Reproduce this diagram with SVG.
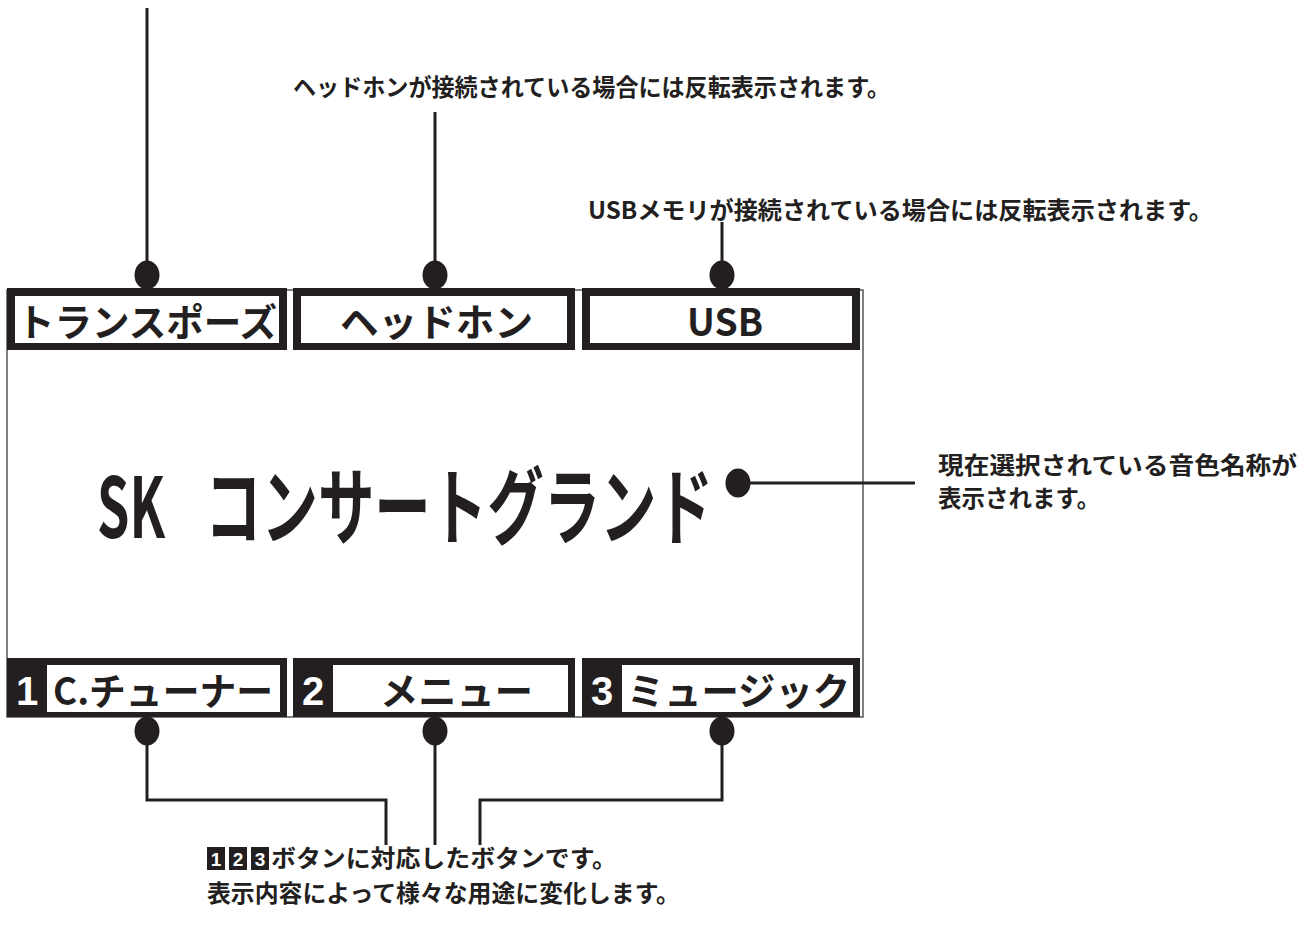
<svg xmlns="http://www.w3.org/2000/svg" width="1313" height="934" viewBox="0 0 1313 934">
<style>
.lbl{font-family:"Noto Sans CJK JP","Noto Sans",sans-serif;font-weight:700;font-size:23.5px;fill:#231f20}
.lcd{font-family:"Noto Sans CJK JP","DejaVu Sans Mono",monospace;font-weight:700;fill:#231f20}
.inv{font-family:"Liberation Sans","Noto Sans CJK JP",sans-serif;font-weight:700;fill:#fff}
.ln{fill:none;stroke:#231f20;stroke-width:3}
.dot{fill:#231f20}
.blk{fill:#231f20}
.wht{fill:#fff}
</style>
<rect width="1313" height="934" fill="#fff"/>
<g id="lcd-frame">
<rect x="7" y="290" width="856" height="427" fill="#fff" stroke="#555" stroke-width="1.5"/>
</g>
<g id="top-bar">
<g id="box-transpose">
<rect class="blk" x="7" y="288" width="280" height="62"/>
<rect class="wht" x="15" y="296" width="264" height="47"/>
<text class="lcd" x="17" y="336" font-size="38" textLength="260" lengthAdjust="spacingAndGlyphs">トランスポーズ</text>
</g>
<g id="box-headphone">
<rect class="blk" x="293" y="288" width="282" height="62"/>
<rect class="wht" x="301" y="296" width="266" height="47"/>
<text class="lcd" x="340" y="336" font-size="38" textLength="193" lengthAdjust="spacingAndGlyphs">ヘッドホン</text>
</g>
<g id="box-usb">
<rect class="blk" x="582" y="288" width="278" height="62"/>
<rect class="wht" x="590" y="296" width="262" height="47"/>
<text class="lcd" x="687" y="336" font-size="38" textLength="76" lengthAdjust="spacingAndGlyphs">USB</text>
</g>
</g>
<g id="tone-name">
<text class="lcd" x="97" y="538" font-size="84" textLength="68" lengthAdjust="spacingAndGlyphs">SK</text>
<text class="lcd" x="205" y="538" font-size="84" textLength="508" lengthAdjust="spacingAndGlyphs">コンサートグランド</text>
</g>
<g id="bottom-bar">
<g id="box-1">
<rect class="blk" x="7" y="658" width="280" height="59"/>
<rect class="wht" x="47" y="665" width="233" height="47"/>
<text class="inv" x="27" y="705" font-size="40" text-anchor="middle">1</text>
<text class="lcd" x="53" y="705" font-size="38" textLength="220" lengthAdjust="spacingAndGlyphs">C.チューナー</text>
</g>
<g id="box-2">
<rect class="blk" x="293" y="658" width="282" height="59"/>
<rect class="wht" x="333" y="665" width="235" height="47"/>
<text class="inv" x="313" y="705" font-size="40" text-anchor="middle">2</text>
<text class="lcd" x="380" y="705" font-size="38" textLength="153" lengthAdjust="spacingAndGlyphs">メニュー</text>
</g>
<g id="box-3">
<rect class="blk" x="582" y="658" width="278" height="59"/>
<rect class="wht" x="622" y="665" width="231" height="47"/>
<text class="inv" x="602" y="705" font-size="40" text-anchor="middle">3</text>
<text class="lcd" x="627" y="705" font-size="38" textLength="223" lengthAdjust="spacingAndGlyphs">ミュージック</text>
</g>
</g>
<g id="connectors">
<line class="ln" x1="147" y1="8" x2="147" y2="270"/>
<line class="ln" x1="435" y1="112" x2="435" y2="270"/>
<line class="ln" x1="722" y1="222" x2="722" y2="270"/>
<line class="ln" x1="738" y1="483" x2="915" y2="483"/>
<polyline class="ln" points="147,735 147,800 386,800 386,845"/>
<line class="ln" x1="435" y1="735" x2="435" y2="845"/>
<polyline class="ln" points="722,735 722,800 480,800 480,845"/>
<ellipse class="dot" cx="147" cy="275" rx="12.5" ry="14.5"/>
<ellipse class="dot" cx="435" cy="275" rx="12.5" ry="14.5"/>
<ellipse class="dot" cx="722" cy="275" rx="12.5" ry="14.5"/>
<ellipse class="dot" cx="738" cy="483" rx="12.5" ry="14.5"/>
<ellipse class="dot" cx="147" cy="731" rx="12.5" ry="14.5"/>
<ellipse class="dot" cx="435" cy="731" rx="12.5" ry="14.5"/>
<ellipse class="dot" cx="722" cy="731" rx="12.5" ry="14.5"/>
</g>
<g id="label-headphone">
<text class="lbl" x="293" y="96" textLength="597" lengthAdjust="spacingAndGlyphs">ヘッドホンが接続されている場合には反転表示されます。</text>
</g>
<g id="label-usb">
<text class="lbl" x="588" y="219" textLength="625" lengthAdjust="spacingAndGlyphs">USBメモリが接続されている場合には反転表示されます。</text>
</g>
<g id="label-tone">
<text class="lbl" font-size="22.5"><tspan x="938" y="474" textLength="359" lengthAdjust="spacingAndGlyphs">現在選択されている音色名称が</tspan><tspan x="938" y="507">表示されます。</tspan></text>
</g>
<g id="label-buttons">
<rect class="blk" x="207" y="847" width="18" height="23"/>
<rect class="blk" x="229" y="847" width="18" height="23"/>
<rect class="blk" x="251" y="847" width="18" height="23"/>
<text class="inv" x="216" y="866" font-size="19" text-anchor="middle">1</text>
<text class="inv" x="238" y="866" font-size="19" text-anchor="middle">2</text>
<text class="inv" x="260" y="866" font-size="19" text-anchor="middle">3</text>
<text class="lbl" x="271" y="867" textLength="346" lengthAdjust="spacingAndGlyphs">ボタンに対応したボタンです。</text>
<text class="lbl" x="207" y="902" textLength="473" lengthAdjust="spacingAndGlyphs">表示内容によって様々な用途に変化します。</text>
</g>
</svg>
